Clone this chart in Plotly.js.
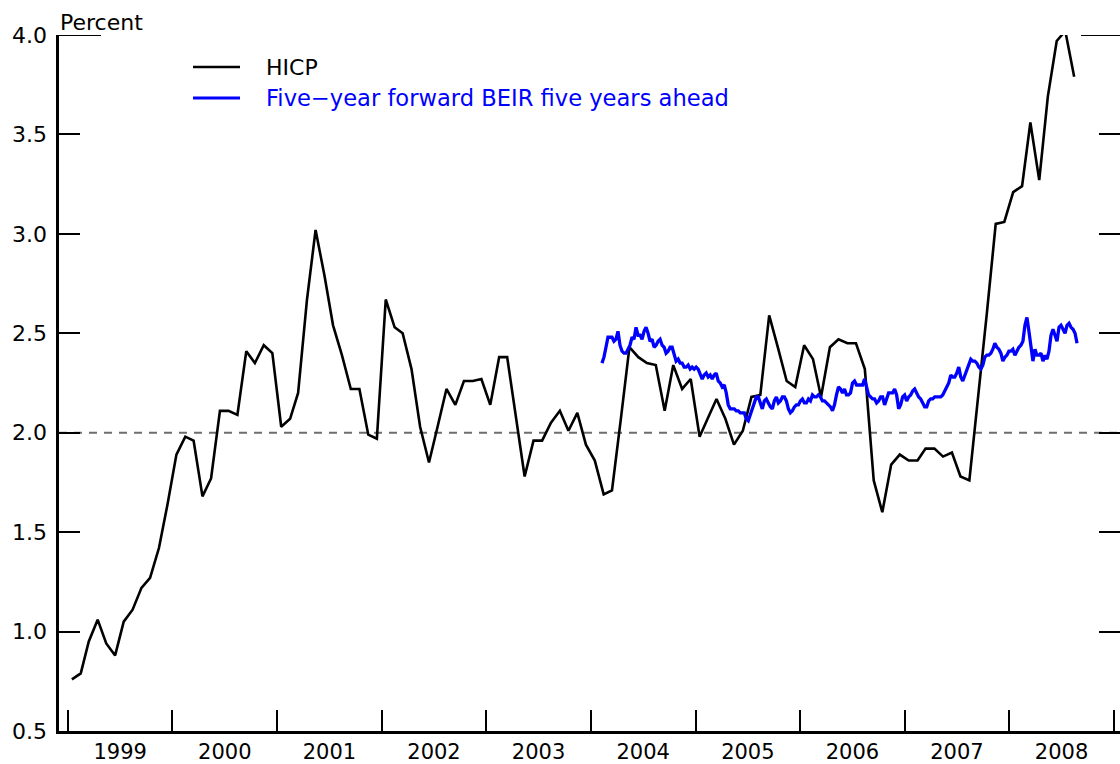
<!DOCTYPE html>
<html>
<head>
<meta charset="utf-8">
<script src="https://cdn.plot.ly/plotly-3.0.1.min.js"></script>
<style>
  html, body { margin: 0; padding: 0; background: #ffffff; }
  #chart { width: 1120px; height: 764px; }
</style>
</head>
<body>
<div id="chart"></div>
<script>
// Euro-area HICP, 12-month change (percent), monthly from January 1999
const hicpStart = { year: 1999, month: 0 };
const hicp1999 = [0.76, 0.79, 0.95, 1.06, 0.94, 0.88, 1.05, 1.11, 1.22, 1.27, 1.42, 1.64];
const hicp2000 = [1.89, 1.98, 1.96, 1.68, 1.77, 2.11, 2.11, 2.09, 2.41, 2.35, 2.44, 2.40];
const hicp2001 = [2.03, 2.07, 2.20, 2.67, 3.02, 2.79, 2.54, 2.39, 2.22, 2.22, 1.99, 1.97];
const hicp2002 = [2.67, 2.53, 2.50, 2.32, 2.03, 1.85, 2.03, 2.22, 2.14, 2.26, 2.26, 2.27];
const hicp2003 = [2.14, 2.38, 2.38, 2.08, 1.78, 1.96, 1.96, 2.05, 2.11, 2.01, 2.10, 1.94];
const hicp2004 = [1.86, 1.69, 1.71, 2.07, 2.43, 2.38, 2.35, 2.34, 2.11, 2.34, 2.22, 2.27];
const hicp2005 = [1.98, 2.08, 2.17, 2.07, 1.94, 2.01, 2.18, 2.19, 2.59, 2.43, 2.26, 2.23];
const hicp2006 = [2.44, 2.37, 2.18, 2.43, 2.47, 2.45, 2.45, 2.32, 1.76, 1.60, 1.84, 1.89];
const hicp2007 = [1.86, 1.86, 1.92, 1.92, 1.88, 1.90, 1.78, 1.76, 2.18, 2.60, 3.05, 3.06];
const hicp2008 = [3.21, 3.24, 3.56, 3.27, 3.69, 3.97, 4.02, 3.79];

// Five-year forward break-even inflation rate five years ahead, weekly from 9 February 2004
const beirStart = '2004-02-09';
const beir = [
  2.35, 2.38, 2.43, 2.48, 2.48, 2.48, 2.46, 2.47, 2.51, 2.44,
  2.41, 2.40, 2.40, 2.42, 2.44, 2.48, 2.47, 2.53, 2.49, 2.49,
  2.47, 2.51, 2.53, 2.50, 2.46, 2.47, 2.43, 2.44, 2.46, 2.47,
  2.44, 2.43, 2.40, 2.41, 2.43, 2.43, 2.40, 2.36, 2.37, 2.35,
  2.35, 2.33, 2.33, 2.34, 2.32, 2.33, 2.32, 2.33, 2.32, 2.29,
  2.27, 2.29, 2.30, 2.28, 2.29, 2.27, 2.29, 2.30, 2.26, 2.25,
  2.23, 2.24, 2.20, 2.14, 2.12, 2.12, 2.12, 2.11, 2.11, 2.10,
  2.10, 2.10, 2.07, 2.06, 2.09, 2.12, 2.16, 2.18, 2.18, 2.15,
  2.12, 2.16, 2.17, 2.15, 2.13, 2.12, 2.16, 2.18, 2.15, 2.16,
  2.18, 2.18, 2.16, 2.12, 2.10, 2.11, 2.13, 2.14, 2.14, 2.16,
  2.17, 2.15, 2.15, 2.17, 2.16, 2.19, 2.18, 2.18, 2.19, 2.18,
  2.16, 2.16, 2.15, 2.14, 2.13, 2.11, 2.14, 2.19, 2.23, 2.22,
  2.20, 2.22, 2.19, 2.19, 2.20, 2.25, 2.26, 2.24, 2.24, 2.24,
  2.24, 2.27, 2.23, 2.19, 2.18, 2.17, 2.17, 2.15, 2.16, 2.18,
  2.18, 2.14, 2.17, 2.20, 2.20, 2.20, 2.22, 2.19, 2.12, 2.14,
  2.18, 2.19, 2.16, 2.18, 2.19, 2.21, 2.22, 2.20, 2.18, 2.17,
  2.15, 2.13, 2.13, 2.16, 2.17, 2.17, 2.18, 2.18, 2.18, 2.18,
  2.19, 2.21, 2.23, 2.25, 2.29, 2.28, 2.28, 2.30, 2.33, 2.28,
  2.26, 2.29, 2.31, 2.35, 2.37, 2.36, 2.36, 2.35, 2.33, 2.32,
  2.34, 2.38, 2.39, 2.39, 2.40, 2.42, 2.45, 2.43, 2.42, 2.40,
  2.36, 2.38, 2.39, 2.41, 2.41, 2.42, 2.39, 2.41, 2.43, 2.44,
  2.46, 2.54, 2.58, 2.51, 2.43, 2.36, 2.42, 2.39, 2.39, 2.40,
  2.36, 2.39, 2.37, 2.41, 2.49, 2.52, 2.49, 2.46, 2.53, 2.54,
  2.52, 2.50, 2.54, 2.55, 2.53, 2.52, 2.50, 2.45
];

const referenceRate = 2.0;
const seriesNames = ['HICP', 'Five\u2212year forward BEIR five years ahead'];
const seriesColors = ['#000000', '#0000ff'];
const yTickValues = [0.5, 1.0, 1.5, 2.0, 2.5, 3.0, 3.5, 4.0];

// ---- build x values ----
const hicp = [].concat(hicp1999, hicp2000, hicp2001, hicp2002, hicp2003,
                       hicp2004, hicp2005, hicp2006, hicp2007, hicp2008);
const hicpDates = hicp.map((_, i) => {
  const d = new Date(Date.UTC(hicpStart.year, hicpStart.month + i, 15));
  return d.toISOString().slice(0, 10);
});
const beirT0 = Date.parse(beirStart + 'T00:00:00Z');
const beirDates = beir.map((_, i) =>
  new Date(beirT0 + i * 7 * 86400000).toISOString().slice(0, 10));

const FONT = 'DejaVu Sans';

const traces = [
  {
    x: hicpDates, y: hicp, type: 'scatter', mode: 'lines',
    name: seriesNames[0],
    line: { color: seriesColors[0], width: 2.6 },
    xaxis: 'x', yaxis: 'y', hoverinfo: 'skip'
  },
  {
    x: beirDates, y: beir, type: 'scatter', mode: 'lines',
    name: seriesNames[1],
    line: { color: seriesColors[1], width: 3.3 },
    xaxis: 'x', yaxis: 'y2', hoverinfo: 'skip'
  }
];

// legend key geometry (pixels inside the figure)
const plotLeft = 59, plotTop = 35, plotBottom = 731, plotWidth = 1120 - plotLeft;
const plotHeight = plotBottom - plotTop;
const px = v => (v - plotLeft) / plotWidth;
const py = v => (plotBottom - v) / plotHeight;
const keyRows = [67, 98];

const layout = {
  width: 1120, height: 764,
  margin: { l: plotLeft, r: 0, t: plotTop, b: 764 - plotBottom, pad: 0 },
  paper_bgcolor: '#ffffff', plot_bgcolor: '#ffffff',
  font: { family: FONT, size: 22, color: '#000000' },
  showlegend: false,
  xaxis: {
    type: 'date',
    range: ['1998-12-01', '2009-01-22'],
    tick0: '1999-01-01', dtick: 'M12',
    tickformat: '%Y', ticklabelmode: 'period',
    ticks: 'inside', ticklen: 21, tickwidth: 2, tickcolor: '#000000',
    ticklabelstandoff: 0,
    showline: true, linewidth: 2.6, linecolor: '#000000',
    showgrid: false, zeroline: false, fixedrange: true,
    tickfont: { family: FONT, size: 21, color: '#000000' }
  },
  yaxis: {
    range: [0.5, 4.0],
    tickmode: 'array', tickvals: yTickValues,
    tickformat: '.1f',
    ticks: 'inside', ticklen: 21, tickwidth: 2, tickcolor: '#000000',
    ticklabelstandoff: 5,
    showline: true, linewidth: 2.6, linecolor: '#000000',
    showgrid: false, zeroline: false, fixedrange: true,
    tickfont: { family: FONT, size: 22, color: '#000000' }
  },
  yaxis2: {
    range: [0.5, 4.0], overlaying: 'y', side: 'right',
    tickmode: 'array', tickvals: yTickValues,
    ticks: 'inside', ticklen: 21, tickwidth: 2, tickcolor: '#000000',
    showticklabels: false, showline: false,
    showgrid: false, zeroline: false, fixedrange: true
  },
  shapes: [
    // 2 percent reference line
    { type: 'line', xref: 'paper', x0: 0, x1: 1, yref: 'y', y0: referenceRate, y1: referenceRate,
      line: { color: '#6e6e6e', width: 2, dash: '8px,7px' }, layer: 'below' },
    // top corner marks at 4.0
    { type: 'line', xref: 'paper', xsizemode: 'pixel', xanchor: 0, x0: 0, x1: 42,
      yref: 'y', y0: 4.0, y1: 4.0, line: { color: '#000000', width: 2 } },
    { type: 'line', xref: 'paper', xsizemode: 'pixel', xanchor: 1, x0: -39, x1: 0,
      yref: 'y', y0: 4.0, y1: 4.0, line: { color: '#000000', width: 2 } },
    // legend keys
    { type: 'line', xref: 'paper', yref: 'paper', x0: px(193), x1: px(240),
      y0: py(keyRows[0]), y1: py(keyRows[0]), line: { color: seriesColors[0], width: 2.6 } },
    { type: 'line', xref: 'paper', yref: 'paper', x0: px(193), x1: px(240),
      y0: py(keyRows[1]), y1: py(keyRows[1]), line: { color: seriesColors[1], width: 3 } }
  ],
  annotations: [
    { text: 'Percent', xref: 'paper', yref: 'paper', x: 0, y: 1,
      xanchor: 'left', yanchor: 'bottom', xshift: -1, yshift: -2, showarrow: false,
      font: { family: FONT, size: 22, color: '#000000' } },
    { text: seriesNames[0], xref: 'paper', yref: 'paper', x: px(264), y: py(keyRows[0]),
      xanchor: 'left', yanchor: 'middle', showarrow: false,
      font: { family: FONT, size: 22, color: seriesColors[0] } },
    { text: seriesNames[1], xref: 'paper', yref: 'paper', x: px(264), y: py(keyRows[1]),
      xanchor: 'left', yanchor: 'middle', showarrow: false,
      font: { family: FONT, size: 22.6, color: seriesColors[1] } }
  ]
};

Plotly.newPlot('chart', traces, layout, { displayModeBar: false, staticPlot: true });
</script>
</body>
</html>
